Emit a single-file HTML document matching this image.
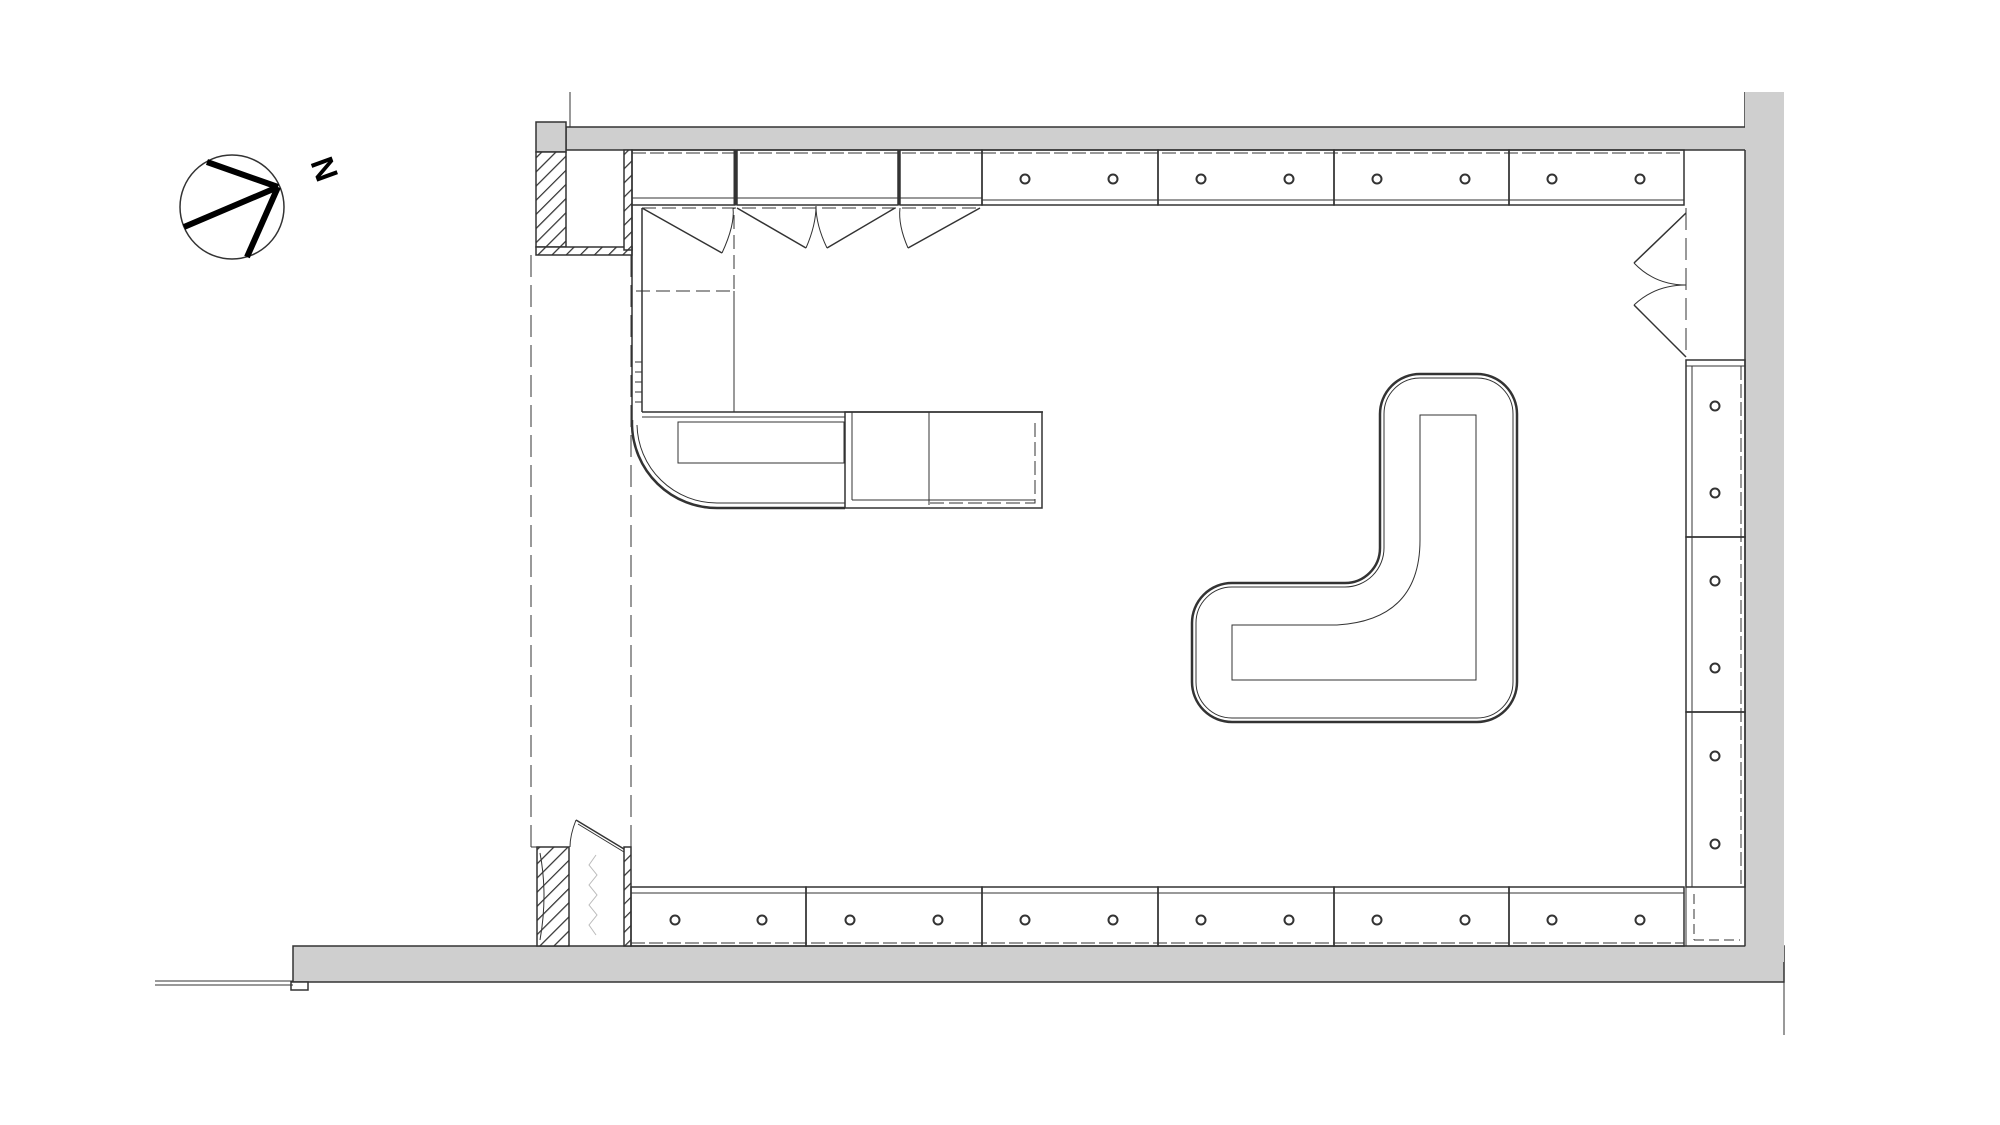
<!DOCTYPE html>
<html><head><meta charset="utf-8"><style>html,body{margin:0;padding:0;background:#fff}svg{display:block}</style></head>
<body>
<svg width="2000" height="1125" viewBox="0 0 2000 1125" xmlns="http://www.w3.org/2000/svg" font-family="Liberation Sans, sans-serif">
<defs>
<pattern id="h" patternUnits="userSpaceOnUse" width="10" height="10" patternTransform="rotate(45)">
<rect width="10" height="10" fill="#fff"/><line x1="0" y1="0" x2="0" y2="10" stroke="#333" stroke-width="2.5"/></pattern>
</defs>
<g stroke="#333" stroke-width="1.5" fill="none">
<!-- walls -->
<rect x="566" y="127" width="1180" height="23" fill="#cfcfcf"/>
<rect x="536" y="122" width="30" height="30" fill="#cfcfcf"/>
<line x1="570" y1="92" x2="570" y2="127" stroke-width="1"/>
<line x1="1745" y1="92" x2="1745" y2="127"/>
<line x1="1784" y1="982" x2="1784" y2="1035" stroke-width="1"/>
<rect x="293" y="946" width="1491" height="36" fill="#cfcfcf"/>
<rect x="1745" y="92" width="39" height="870" fill="#cfcfcf" stroke="none"/>
<line x1="1745" y1="150" x2="1745" y2="946"/>
<rect x="291" y="982" width="17" height="8" fill="#fff"/>
<line x1="155" y1="981" x2="293" y2="981" stroke-width="1"/>
<line x1="155" y1="985" x2="293" y2="985" stroke-width="1"/>
<!-- hatched blocks -->
<rect x="536" y="152" width="30" height="95" fill="url(#h)"/>
<rect x="536" y="247" width="96" height="8" fill="url(#h)"/>
<rect x="624" y="150" width="8" height="100" fill="url(#h)"/>
<rect x="537" y="847" width="32" height="99" fill="url(#h)"/>
<rect x="624" y="847" width="7" height="99" fill="url(#h)"/>
<path d="M540 853 Q548 895 540 940" stroke-width="1"/>
<!-- entrance dashed -->
<g stroke-dasharray="22 8" stroke-width="1">
<line x1="531" y1="255" x2="531" y2="847"/>
<line x1="631" y1="255" x2="631" y2="847"/>
</g>
<line x1="531" y1="847" x2="537" y2="847" stroke-width="1"/>
<line x1="576" y1="820" x2="624" y2="849"/><line x1="578" y1="824" x2="624" y2="852" stroke-width="1"/>
<path d="M576 820 Q570 835 570 847" stroke-width="1"/>
<polyline points="596,855 589,865 597,875 589,885 597,895 589,905 597,915 589,925 596,935" stroke="#bbb" stroke-width="1"/>
<!-- top storage units -->
<rect x="632" y="150" width="103" height="55"/>
<rect x="737" y="150" width="161" height="55"/>
<rect x="900" y="150" width="82" height="55"/>
<line x1="632" y1="198" x2="982" y2="198" stroke-width="1"/>
<line x1="735" y1="150" x2="735" y2="205" stroke-width="3"/>
<line x1="899" y1="150" x2="899" y2="205" stroke-width="3"/>
<line x1="632" y1="153" x2="982" y2="153" stroke-dasharray="14 4" stroke-width="1"/>
<line x1="642" y1="208" x2="982" y2="208" stroke-dasharray="14 6" stroke-width="1"/>
<!-- doors -->
<line x1="642" y1="208" x2="722" y2="253"/><path d="M722 253 Q735 225 733 208" stroke-width="1"/>
<line x1="737" y1="208" x2="806" y2="248"/><path d="M806 248 Q816 225 816 206" stroke-width="1"/>
<line x1="895" y1="208" x2="827" y2="248"/><path d="M827 248 Q816 225 816 206" stroke-width="1"/>
<line x1="980" y1="208" x2="908" y2="248"/><path d="M908 248 Q898 225 900 208" stroke-width="1"/>
<polyline points="636,291 734,291 734,208" stroke-dasharray="14 6" stroke-width="1"/>
<line x1="734" y1="291" x2="734" y2="412" stroke-width="1"/>
<!-- left column -->
<line x1="632" y1="205" x2="632" y2="420"/>
<line x1="642" y1="208" x2="642" y2="412"/>
<g stroke-width="1"><line x1="635" y1="362" x2="642" y2="362"/><line x1="635" y1="372" x2="642" y2="372"/><line x1="635" y1="382" x2="642" y2="382"/><line x1="635" y1="392" x2="642" y2="392"/><line x1="635" y1="402" x2="642" y2="402"/></g>
<!-- counter -->
<line x1="642" y1="412" x2="1043" y2="412"/>
<line x1="642" y1="417" x2="845" y2="417" stroke-width="1"/>
<rect x="678" y="422" width="166" height="41" stroke-width="1"/>
<path d="M632 420 L632 425 A85 85 0 0 0 717 508 L845 508" stroke-width="2.5"/>
<path d="M637 425 A80 80 0 0 0 717 503 L845 503" stroke-width="1"/>
<rect x="845" y="412" width="197" height="96"/>
<line x1="852" y1="412" x2="852" y2="500" stroke-width="1"/>
<line x1="929" y1="412" x2="929" y2="505" stroke-width="1"/>
<line x1="852" y1="500" x2="1035" y2="500" stroke-width="1"/>
<polyline points="930,503 1035,503 1035,418" stroke-dasharray="14 5" stroke-width="1"/>
<!-- top cabinets -->
<rect x="982" y="150" width="176" height="55"/><rect x="1158" y="150" width="176" height="55"/>
<rect x="1334" y="150" width="175" height="55"/><rect x="1509" y="150" width="175" height="55"/>
<line x1="982" y1="200" x2="1684" y2="200" stroke-width="1"/>
<line x1="982" y1="153" x2="1684" y2="153" stroke-dasharray="14 4" stroke-width="1"/>
<!-- bottom cabinets -->
<rect x="631" y="887" width="175" height="59"/><rect x="806" y="887" width="176" height="59"/>
<rect x="982" y="887" width="176" height="59"/><rect x="1158" y="887" width="176" height="59"/>
<rect x="1334" y="887" width="175" height="59"/><rect x="1509" y="887" width="175" height="59"/>
<line x1="631" y1="893" x2="1684" y2="893" stroke-width="1"/>
<line x1="631" y1="943" x2="1684" y2="943" stroke-dasharray="14 4" stroke-width="1"/>
<rect x="1686" y="887" width="59" height="59" stroke-width="1"/>
<line x1="1694" y1="894" x2="1694" y2="940" stroke-dasharray="10 5" stroke-width="1"/>
<line x1="1694" y1="940" x2="1740" y2="940" stroke-dasharray="10 5" stroke-width="1"/>
<!-- right door -->
<line x1="1686" y1="208" x2="1686" y2="357" stroke-dasharray="22 8" stroke-width="1"/>
<line x1="1686" y1="213" x2="1634" y2="263"/><path d="M1634 263 Q1655 285 1686 285" stroke-width="1"/>
<line x1="1686" y1="357" x2="1634" y2="305"/><path d="M1634 305 Q1655 285 1686 285" stroke-width="1"/>
<!-- right cabinets -->
<rect x="1686" y="360" width="59" height="177"/><rect x="1686" y="537" width="59" height="175"/><rect x="1686" y="712" width="59" height="175"/>
<line x1="1686" y1="366" x2="1745" y2="366" stroke-width="1"/>
<line x1="1692" y1="366" x2="1692" y2="887" stroke-width="1"/>
<line x1="1741" y1="366" x2="1741" y2="887" stroke-dasharray="14 4" stroke-width="1"/>
<!-- circles -->
<g stroke-width="2">
<circle cx="1025" cy="179" r="4.5"/><circle cx="1113" cy="179" r="4.5"/><circle cx="1201" cy="179" r="4.5"/><circle cx="1289" cy="179" r="4.5"/>
<circle cx="1377" cy="179" r="4.5"/><circle cx="1465" cy="179" r="4.5"/><circle cx="1552" cy="179" r="4.5"/><circle cx="1640" cy="179" r="4.5"/>
<circle cx="675" cy="920" r="4.5"/><circle cx="762" cy="920" r="4.5"/><circle cx="850" cy="920" r="4.5"/><circle cx="938" cy="920" r="4.5"/>
<circle cx="1025" cy="920" r="4.5"/><circle cx="1113" cy="920" r="4.5"/><circle cx="1201" cy="920" r="4.5"/><circle cx="1289" cy="920" r="4.5"/>
<circle cx="1377" cy="920" r="4.5"/><circle cx="1465" cy="920" r="4.5"/><circle cx="1552" cy="920" r="4.5"/><circle cx="1640" cy="920" r="4.5"/>
<circle cx="1715" cy="406" r="4.5"/><circle cx="1715" cy="493" r="4.5"/><circle cx="1715" cy="581" r="4.5"/><circle cx="1715" cy="668" r="4.5"/><circle cx="1715" cy="756" r="4.5"/><circle cx="1715" cy="844" r="4.5"/>
</g>
<!-- island -->
<path d="M1420 374 L1477 374 A40 40 0 0 1 1517 414 L1517 682 A40 40 0 0 1 1477 722 L1232 722 A40 40 0 0 1 1192 682 L1192 623 A40 40 0 0 1 1232 583 L1345 583 A35 35 0 0 0 1380 548 L1380 414 A40 40 0 0 1 1420 374 Z" stroke-width="2.5"/>
<path d="M1420 378 L1477 378 A36 36 0 0 1 1513 414 L1513 682 A36 36 0 0 1 1477 718 L1232 718 A36 36 0 0 1 1196 682 L1196 623 A36 36 0 0 1 1232 587 L1345 587 A39 39 0 0 0 1384 548 L1384 414 A36 36 0 0 1 1420 378 Z" stroke-width="1"/>
<path d="M1420 415 L1476 415 L1476 680 L1232 680 L1232 625 L1337 625 Q1420 620 1420 540 Z" stroke-width="1"/>
<!-- compass -->
<circle cx="232" cy="207" r="52" stroke-width="1.5"/>
<g stroke="#000" stroke-width="6" stroke-linecap="butt">
<line x1="207" y1="162" x2="278" y2="187"/><line x1="184" y1="227" x2="278" y2="187"/><line x1="247" y1="257" x2="278" y2="187"/>
</g>
</g>
<text x="322" y="170" font-size="32" font-weight="bold" fill="#000" text-anchor="middle" dominant-baseline="middle" transform="rotate(70 322 170)">N</text>
</svg>
</body></html>
